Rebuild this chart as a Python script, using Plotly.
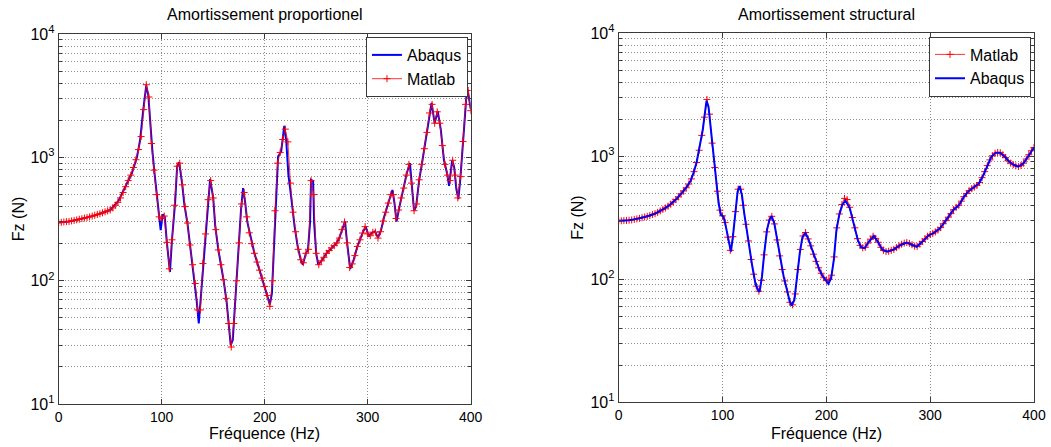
import plotly.graph_objects as go

# ---------------- data: left panel (Amortissement proportionel) ----------------
abaqus_prop_f = [0, 10, 20, 30, 40, 50, 58, 64, 71, 76, 79, 82, 85, 87, 89, 91, 93, 95, 97, 99,
                 101, 103, 105, 108, 110, 113, 115, 117, 120, 122, 125, 128, 130, 132, 134, 136,
                 138, 140, 143, 145, 147, 150, 152, 155, 158, 160, 163, 165, 167, 169, 171, 173,
                 175, 177, 179, 181, 183, 186, 190, 195, 200, 203, 205, 207, 209, 211, 213, 216,
                 219, 221, 223, 226, 229, 232, 235, 237, 240, 242, 244, 245, 247, 248, 250, 252,
                 256, 260, 265, 270, 273, 276, 278, 280, 283, 286, 290, 295, 298, 301, 304, 307,
                 310, 313, 316, 320, 324, 326, 328, 331, 335, 338, 341, 343, 345, 347, 350, 353,
                 356, 359, 362, 365, 368, 371, 374, 377, 379, 382, 384, 386, 388, 390, 393, 396,
                 397, 398, 400]
abaqus_prop_v = [297, 303, 316, 330, 350, 375, 445, 560, 745, 1010, 1380, 2400, 3850, 3200, 1780,
                 1120, 750, 510, 355, 258, 345, 330, 205, 118, 215, 430, 850, 915, 600, 415, 294,
                 184, 135, 100, 68, 45, 74, 138, 258, 455, 670, 470, 276, 178, 131, 102, 68, 45,
                 30, 33, 64, 112, 203, 377, 565, 437, 303, 229, 167, 122, 90, 74, 64, 79, 203,
                 550, 1020, 1120, 1810, 1340, 725, 455, 276, 190, 148, 135, 167, 178, 294, 660,
                 645, 294, 167, 135, 148, 167, 185, 203, 229, 276, 303, 203, 125, 144, 190, 244,
                 276, 229, 244, 252, 224, 258, 330, 427, 545, 427, 302, 405, 565, 750, 900, 580,
                 370, 400, 660, 928, 1315, 1960, 2780, 1900, 2380, 1680, 955, 750, 590, 955, 830,
                 560, 460, 680, 1500, 3300, 3550, 3200, 2500]

matlab_prop_f = [i * 2.5 for i in range(161)]
matlab_prop_v = [297, 298, 300, 302, 303, 306, 309, 312, 316, 319, 323, 326, 330, 335, 340, 345,
                 350, 356, 363, 369, 375, 390, 410, 433, 470, 520, 580, 650, 720, 830, 960, 1160,
                 1480, 2450, 3900, 3100, 1300, 790, 500, 330, 320, 335, 205, 125, 215, 410, 850,
                 900, 600, 400, 294, 195, 135, 95, 58, 58, 138, 240, 455, 650, 470, 260, 178, 135,
                 102, 72, 45, 29, 45, 100, 203, 420, 520, 330, 245, 200, 167, 142, 122, 105, 90,
                 76, 62, 100, 370, 900, 1100, 1400, 1700, 1340, 620, 360, 250, 180, 148, 140, 167,
                 180, 650, 500, 167, 135, 145, 155, 167, 176, 185, 193, 203, 222, 260, 300, 203,
                 128, 137, 160, 190, 215, 244, 275, 240, 232, 248, 248, 222, 250, 305, 360, 427,
                 500, 500, 320, 375, 470, 565, 720, 880, 620, 370, 420, 660, 880, 1180, 1600, 2300,
                 2700, 1900, 2350, 1900, 1250, 880, 720, 650, 950, 720, 470, 700, 1350, 2700, 3500,
                 2400]

# ---------------- data: right panel (Amortissement structural) ----------------
abaqus_struct_f = [0, 5, 10, 15, 20, 25, 30, 35, 40, 45, 50, 55, 60, 65, 69, 72, 75, 78, 81, 83,
                   84.6, 86.5, 88.8, 90.7, 93, 94.6, 96.2, 98.4, 101, 102.6, 104.9, 106.8, 108.1,
                   110, 112.3, 114.5, 116.4, 118.7, 120.9, 123.5, 126.1, 128.7, 131.6, 134.1,
                   135.7, 138, 140.2, 142.8, 145.1, 147.3, 149.9, 152.5, 155.7, 158.9, 162.1,
                   164.7, 166.6, 169.2, 171.8, 174.4, 176.9, 179.8, 183, 186.3, 189.5, 192.7,
                   195.9, 199.1, 202, 204.6, 207.2, 209.7, 212.3, 215.2, 218.4, 222.6, 226.5,
                   230.3, 233.5, 236.8, 240.9, 245.8, 249.6, 253.8, 258.6, 265.1, 271.5, 277.3,
                   282.8, 287, 292.4, 297.9, 303.7, 309.5, 315.9, 322.3, 327.8, 332.6, 337.5,
                   342.3, 347.1, 351.3, 355.2, 359, 363.2, 367.4, 371.9, 376.1, 380.9, 384.8,
                   389.9, 393.8, 397.6, 400]
abaqus_struct_v = [299, 300, 302, 307, 313, 321, 330, 342, 360, 380, 408, 445, 495, 555, 625, 730,
                   890, 1220, 1640, 2235, 2830, 2530, 1640, 1090, 750, 550, 415, 334, 323, 285,
                   222, 179, 168, 222, 344, 515, 573, 484, 344, 244, 173, 127, 93, 82, 79, 105, 163,
                   251, 303, 327, 285, 209, 144, 105, 82, 66, 61, 68, 105, 163, 219, 239, 209, 173,
                   144, 123, 108, 99, 92, 102, 144, 251, 330, 400, 437, 378, 285, 209, 182, 179,
                   202, 225, 202, 175, 168, 175, 190, 199, 190, 184, 202, 225, 239, 260, 307, 366,
                   402, 470, 526, 560, 603, 705, 849, 993, 1071, 1071, 993, 903, 849, 824, 877, 993,
                   1111, 1180]

matlab_struct_f = [i * 2.5 for i in range(161)]
matlab_struct_v = [299, 299, 300, 301, 302, 304, 307, 310, 313, 317, 321, 325, 330, 336, 342, 350,
                   360, 370, 380, 393, 408, 425, 445, 468, 495, 523, 555, 595, 655, 750, 890, 1120,
                   1480, 2080, 2900, 2200, 1280, 810, 520, 365, 328, 290, 220, 172, 222, 355, 540,
                   540, 400, 280, 205, 145, 110, 88, 80, 98, 158, 243, 303, 325, 282, 209, 155, 120,
                   97, 79, 65, 62, 76, 120, 175, 225, 240, 213, 187, 160, 140, 124, 112, 103, 98,
                   100, 108, 152, 262, 340, 405, 455, 445, 385, 318, 262, 214, 189, 180, 182, 197,
                   212, 224, 215, 200, 182, 172, 168, 169, 172, 175, 181, 187, 193, 197, 199, 196,
                   191, 186, 185, 193, 203, 213, 224, 231, 236, 243, 252, 263, 283, 300, 320, 342,
                   368, 385, 400, 432, 470, 498, 526, 545, 562, 580, 612, 670, 750, 840, 935, 1010,
                   1060, 1075, 1070, 1030, 975, 920, 880, 855, 835, 825, 840, 880, 950, 1030, 1110,
                   1180]

titles = ["Amortissement proportionel", "Amortissement structural"]
x_title = "Fréquence (Hz)"
y_title = "Fz (N)"
x_ticks = [0, 100, 200, 300, 400]
y_ticks = [10, 100, 1000, 10000]
y_ticktext = ["10<sup>1</sup>", "10<sup>2</sup>", "10<sup>3</sup>", "10<sup>4</sup>"]

BLUE = "#0000ff"
RED = "#ff0000"
FONT = "Liberation Sans, Arial, sans-serif"
AXC = "#3a3a3a"
GRIDC = "#8c8c8c"
GRIDDASH = "1px,2px"

fig = go.Figure()

red_marker = dict(symbol="cross-thin", size=5, color=RED, line=dict(color=RED, width=1))

# left: Abaqus first, Matlab on top
fig.add_trace(go.Scatter(x=abaqus_prop_f, y=abaqus_prop_v, mode="lines", name="Abaqus",
                         line=dict(color=BLUE, width=2), xaxis="x", yaxis="y", legend="legend"))
fig.add_trace(go.Scatter(x=matlab_prop_f, y=matlab_prop_v, mode="lines+markers", name="Matlab",
                         line=dict(color=RED, width=0.8), marker=red_marker,
                         xaxis="x", yaxis="y", legend="legend"))
# right: Matlab first, Abaqus on top
fig.add_trace(go.Scatter(x=matlab_struct_f, y=matlab_struct_v, mode="lines+markers", name="Matlab",
                         line=dict(color=RED, width=0.8), marker=red_marker,
                         xaxis="x2", yaxis="y2", legend="legend2"))
fig.add_trace(go.Scatter(x=abaqus_struct_f, y=abaqus_struct_v, mode="lines", name="Abaqus",
                         line=dict(color=BLUE, width=2), xaxis="x2", yaxis="y2", legend="legend2"))

W, H = 1051, 447
left_px = (58.7, 470.7, 34.3, 404.0)
right_px = (618.7, 1034.0, 33.3, 402.3)


def xdom(p):
    return [p[0] / W, p[1] / W]


def ydom(p):
    return [(H - p[3]) / H, (H - p[2]) / H]


def xaxis_cfg(p):
    return dict(domain=xdom(p), range=[0, 400], tickvals=x_ticks, ticks="inside", ticklen=5,
                tickcolor=AXC, showline=True, linecolor=AXC, linewidth=1, mirror="allticks",
                showgrid=True, gridcolor=GRIDC, griddash=GRIDDASH, gridwidth=1, zeroline=False,
                automargin=False,
                tickfont=dict(family=FONT, size=14, color="#000000"))


def yaxis_cfg(p, anchor):
    return dict(domain=ydom(p), type="log", range=[1, 4], tickmode="array", tickvals=y_ticks,
                ticktext=y_ticktext, ticks="inside", ticklen=5, tickcolor=AXC, showline=True,
                linecolor=AXC, linewidth=1, mirror="allticks", showgrid=True, gridcolor=GRIDC,
                griddash=GRIDDASH, gridwidth=1, zeroline=False, anchor=anchor, automargin=False,
                tickfont=dict(family=FONT, size=16, color="#000000"),
                minor=dict(ticks="inside", ticklen=3, tickcolor=AXC, showgrid=True,
                           gridcolor=GRIDC, griddash=GRIDDASH, gridwidth=1, dtick="D1"))


legend_common = dict(bgcolor="#ffffff", bordercolor=AXC, borderwidth=1,
                     font=dict(family=FONT, size=16, color="#000000"),
                     itemwidth=30, xanchor="right", yanchor="top", tracegroupgap=0)

fig.update_layout(
    width=W, height=H, margin=dict(l=0, r=0, t=0, b=0, autoexpand=False),
    paper_bgcolor="#ffffff", plot_bgcolor="#ffffff",
    xaxis=dict(**xaxis_cfg(left_px), anchor="y"),
    yaxis=yaxis_cfg(left_px, "x"),
    xaxis2=dict(**xaxis_cfg(right_px), anchor="y2"),
    yaxis2=yaxis_cfg(right_px, "x2"),
    legend=dict(**legend_common, x=468 / W, y=(H - 37) / H),
    legend2=dict(**legend_common, x=1031 / W, y=(H - 36.5) / H),
    showlegend=True,
)

annots = []
for p, t in [(left_px, titles[0]), (right_px, titles[1])]:
    cx = (p[0] + p[1]) / 2 / W
    annots.append(dict(text=t, x=cx, y=(H - 15) / H, xref="paper", yref="paper",
                       xanchor="center", yanchor="middle", showarrow=False,
                       font=dict(family=FONT, size=16, color="#000000")))
    annots.append(dict(text=x_title, x=cx, y=(H - 433) / H, xref="paper", yref="paper",
                       xanchor="center", yanchor="middle", showarrow=False,
                       font=dict(family=FONT, size=16, color="#000000")))
for xc, p in [(18, left_px), (578, right_px)]:
    annots.append(dict(text=y_title, x=xc / W, y=(H - (p[2] + p[3]) / 2) / H, xref="paper",
                       yref="paper", xanchor="center", yanchor="middle", showarrow=False,
                       textangle=-90, font=dict(family=FONT, size=16, color="#000000")))
fig.update_layout(annotations=annots)

# remove the default page margin so the figure fills the window exactly
fig.write_html("out.html", config={"displayModeBar": False},
               post_script="document.body.style.margin='0';document.body.style.overflow='hidden';")
